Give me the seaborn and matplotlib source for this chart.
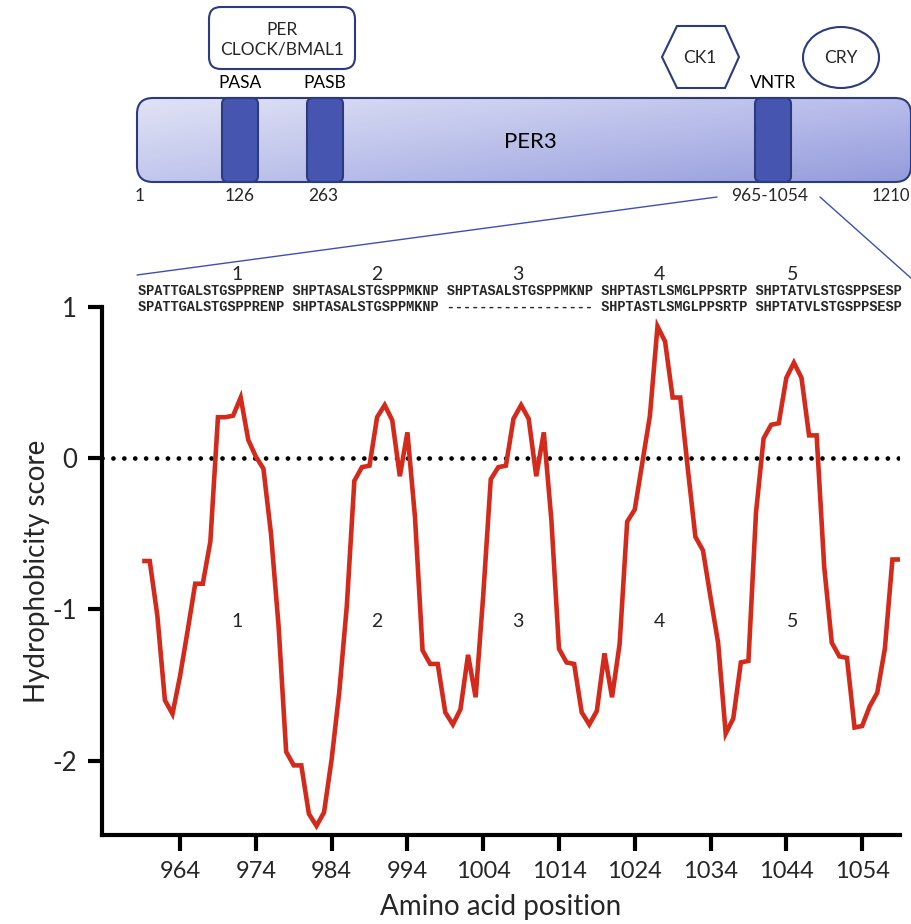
import numpy as np
import pandas as pd
import matplotlib
matplotlib.use("Agg")
import matplotlib.pyplot as plt
import matplotlib.transforms as mtransforms
from matplotlib.patches import FancyBboxPatch, Polygon, Ellipse
import seaborn as sns

# ---------------- data ----------------
positions = list(range(959, 1060))
scores = [
    -0.68, -0.68, -1.04, -1.60, -1.69, -1.44, -1.14, -0.83, -0.83, -0.55,   # 959-968
    0.27, 0.27, 0.28, 0.40, 0.12, 0.01, -0.07, -0.50, -1.11, -1.94,        # 969-978
    -2.03, -2.03, -2.35, -2.43, -2.34, -1.99, -1.55, -0.98, -0.15, -0.06,  # 979-988
    -0.05, 0.27, 0.35, 0.25, -0.12, 0.17, -0.39, -1.27, -1.36, -1.36,      # 989-998
    -1.68, -1.76, -1.66, -1.30, -1.58, -0.91, -0.14, -0.06, -0.05, 0.26,   # 999-1008
    0.35, 0.26, -0.12, 0.17, -0.41, -1.26, -1.35, -1.36, -1.68, -1.76,     # 1009-1018
    -1.67, -1.29, -1.58, -1.23, -0.42, -0.34, -0.03, 0.28, 0.87, 0.77,     # 1019-1028
    0.40, 0.40, -0.07, -0.52, -0.61, -0.92, -1.22, -1.82, -1.72, -1.35,    # 1029-1038
    -1.34, -0.36, 0.13, 0.22, 0.23, 0.53, 0.63, 0.53, 0.15, 0.15,          # 1039-1048
    -0.72, -1.22, -1.31, -1.32, -1.78, -1.77, -1.64, -1.55, -1.26, -0.67,  # 1049-1058
    -0.67,                                                                  # 1059
]
x_ticks = [964, 974, 984, 994, 1004, 1014, 1024, 1034, 1044, 1054]
y_ticks = [-2, -1, 0, 1]
repeat_labels = ["1", "2", "3", "4", "5"]
repeat_label_x = [971.5, 990.0, 1008.6, 1027.2, 1044.8]
seq_row1 = ["SPATTGALSTGSPPRENP", "SHPTASALSTGSPPMKNP", "SHPTASALSTGSPPMKNP",
            "SHPTASTLSMGLPPSRTP", "SHPTATVLSTGSPPSESP"]
seq_row2 = ["SPATTGALSTGSPPRENP", "SHPTASALSTGSPPMKNP", "------------------",
            "SHPTASTLSMGLPPSRTP", "SHPTATVLSTGSPPSESP"]
domain_names = ["PASA", "PASB", "VNTR"]
domain_positions = ["126", "263", "965-1054"]

df = pd.DataFrame({"Amino acid position": positions, "Hydrophobicity score": scores})

# ---------------- style ----------------
sns.set_theme(style="ticks")
plt.rcParams["font.family"] = ["Lato", "DejaVu Sans"]

W, H = 912, 924
fig = plt.figure(figsize=(W / 100, H / 100), dpi=100)

# decoration axes in pixel coordinates (schematic on top)
deco = fig.add_axes([0, 0, 1, 1])
deco.set_facecolor("none")
deco.axis("off")

navy = "#2d3a7e"
dom_fc = "#4656b0"

# PER3 bar with gradient
bar = FancyBboxPatch((137, 98), 774, 84, boxstyle="round,pad=0,rounding_size=16",
                     fc="none", ec=navy, lw=1.5, zorder=3)
deco.add_patch(bar)
tl = np.array([0.88, 0.89, 0.96]); tr = np.array([0.72, 0.74, 0.92])
bl = np.array([0.76, 0.78, 0.93]); br = np.array([0.58, 0.61, 0.86])
u = np.linspace(0, 1, 200)[None, :, None]
v = np.linspace(0, 1, 40)[:, None, None]
grad = (1 - u) * (1 - v) * tl + u * (1 - v) * tr + (1 - u) * v * bl + u * v * br
im = deco.imshow(grad, extent=[137, 911, 182, 98], origin="upper", aspect="auto", zorder=2)
im.set_clip_path(bar)

dom_x = [(222, 258), (307, 343), (755, 791)]
for (x0, x1), name in zip(dom_x, domain_names):
    deco.add_patch(FancyBboxPatch((x0, 98), x1 - x0, 84, boxstyle="round,pad=0,rounding_size=6",
                                  fc=dom_fc, ec=navy, lw=1.5, zorder=4))
    deco.text((x0 + x1) / 2, 83, name, ha="center", va="center", fontsize=12.5, color="black")

deco.text(530, 142, "PER3", ha="center", va="center", fontsize=16, color="black", zorder=5)

for xx, lab in zip([140, 240, 323, 770], ["1"] + domain_positions):
    deco.text(xx, 196, lab, ha="center", va="center", fontsize=12.5)
deco.text(872, 196, "1210", ha="left", va="center", fontsize=12)

# interaction partners
deco.add_patch(FancyBboxPatch((209, 7), 146, 62, boxstyle="round,pad=0,rounding_size=12",
                              fc="white", ec=navy, lw=1.5))
deco.text(282, 40, "PER\nCLOCK/BMAL1", ha="center", va="center", fontsize=12.5, linespacing=1.3)
deco.add_patch(Polygon([(662, 57), (677, 26), (725, 26), (739, 57), (725, 88), (677, 88)],
                       closed=True, fc="white", ec=navy, lw=1.5))
deco.text(700, 58, "CK1", ha="center", va="center", fontsize=12.5)
deco.add_patch(Ellipse((841, 57.5), 76, 61, fc="white", ec=navy, lw=1.5))
deco.text(841, 58, "CRY", ha="center", va="center", fontsize=12.5)

# zoom lines
deco.plot([137, 717], [275, 197], color="#3f4fb0", lw=1)
deco.plot([820, 912], [197, 279], color="#3f4fb0", lw=1)

# sequences
deco.text(138, 291, " ".join(seq_row1), ha="left", va="center", family="Liberation Mono",
          fontweight="bold", fontsize=9.85)
deco.text(138, 307, " ".join(seq_row2), ha="left", va="center", family="Liberation Mono",
          fontweight="bold", fontsize=9.85)

deco.set_xlim(0, W)
deco.set_ylim(H, 0)

# ---------------- main plot ----------------
ax = fig.add_axes([102 / W, (H - 835) / H, 798 / W, (835 - 306.7) / H])
ax.set_facecolor("none")
sns.lineplot(data=df, x="Amino acid position", y="Hydrophobicity score", ax=ax,
             color="#d42a1c", linewidth=3.3, clip_on=False)
for line in ax.lines:
    line.set_solid_joinstyle("miter")
    line.set_solid_capstyle("butt")
ax.axhline(0, color="black", lw=3.4, linestyle=(0, (0.01, 2.3)), dash_capstyle="round", zorder=1)

ax.set_xlim(953.7, 1059.0)
ax.set_ylim(-2.49, 1.0)
ax.set_xticks(x_ticks)
ax.set_xticklabels([str(t) for t in x_ticks])
ax.set_yticks(y_ticks)
ax.set_yticklabels([str(t) for t in y_ticks])
sns.despine(ax=ax)
for s in ["left", "bottom"]:
    ax.spines[s].set_linewidth(3)
    ax.spines[s].set_color("black")
ax.tick_params(axis="x", length=11.5, width=3, pad=7, labelsize=17, color="black")
ax.tick_params(axis="y", length=10, width=3, pad=8, labelsize=18.5, color="black")
ax.set_xlabel("Amino acid position", fontsize=20, labelpad=9)
ax.set_ylabel("Hydrophobicity score", fontsize=20, labelpad=2)

for xx, lab in zip(repeat_label_x, repeat_labels):
    ax.text(xx, -1.077, lab, ha="center", va="center", fontsize=14)

trans = mtransforms.blended_transform_factory(ax.transData, deco.transData)
for xx, lab in zip(repeat_label_x, repeat_labels):
    deco.text(xx, 274, lab, transform=trans, ha="center", va="center", fontsize=14)

fig.savefig("out.png", dpi=100)
